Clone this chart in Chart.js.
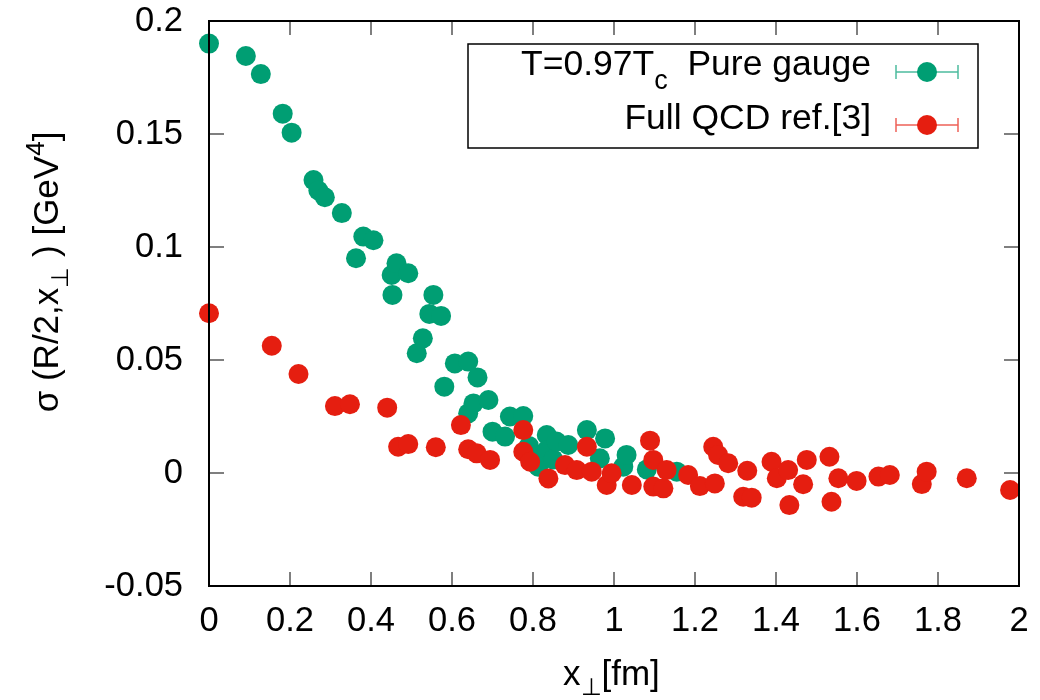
<!DOCTYPE html>
<html>
<head>
<meta charset="utf-8">
<script src="https://cdn.jsdelivr.net/npm/chart.js@4.4.0/dist/chart.umd.min.js"></script>
<style>
  html, body { margin: 0; padding: 0; background: #fff; }
</style>
</head>
<body>
<canvas id="chart" width="1040" height="700"></canvas>
<script>
// values
const pureX = [0, 0.091, 0.128, 0.182, 0.204, 0.258, 0.270, 0.286, 0.328, 0.363, 0.381, 0.406,
  0.451, 0.453, 0.463, 0.492, 0.513, 0.528, 0.544, 0.554, 0.573, 0.581, 0.607, 0.640, 0.640,
  0.653, 0.663, 0.690, 0.700, 0.731, 0.743, 0.776, 0.790, 0.809, 0.813, 0.834, 0.834, 0.850,
  0.858, 0.887, 0.933, 0.965, 0.978, 1.023, 1.031, 1.081, 1.155];
const pureY = [0.190, 0.1845, 0.1765, 0.159, 0.1506, 0.1296, 0.125, 0.122, 0.115, 0.095, 0.1046, 0.103,
  0.0876, 0.0788, 0.0928, 0.0884, 0.053, 0.0596, 0.0704, 0.0788, 0.0695, 0.0382, 0.0485, 0.0493, 0.0264,
  0.0308, 0.0423, 0.0323, 0.0183, 0.0161, 0.025, 0.0252, 0.012, 0.0058, 0.0028, 0.0168, 0.0102, 0.006,
  0.0139, 0.0124, 0.019, 0.0065, 0.0153, 0.0028, 0.008, 0.0016, 0.0006];

const fullX = [0, 0.155, 0.221, 0.311, 0.348, 0.440, 0.467, 0.492, 0.560, 0.622, 0.640, 0.661,
  0.694, 0.776, 0.776, 0.793, 0.838, 0.879, 0.908, 0.933, 0.945, 0.982, 0.994, 1.044, 1.089,
  1.097, 1.097, 1.122, 1.130, 1.183, 1.212, 1.245, 1.249, 1.257, 1.282, 1.319, 1.329, 1.340,
  1.389, 1.402, 1.430, 1.433, 1.467, 1.476, 1.532, 1.537, 1.554, 1.599, 1.653, 1.681, 1.760,
  1.772, 1.871, 1.978];
const fullY = [0.0707, 0.0563, 0.0438, 0.0296, 0.0304, 0.0289, 0.0116, 0.0128, 0.0114, 0.0212, 0.0105, 0.0087,
  0.0058, 0.019, 0.0094, 0.005, -0.0024, 0.0035, 0.0013, 0.0116, 0.0006, -0.0053, -0.0001, -0.0053, 0.0143,
  0.0058, -0.006, -0.0068, 0.0013, -0.0009, -0.0058, 0.0116, -0.0046, 0.008, 0.0043, -0.0105, 0.001, -0.0109,
  0.005, -0.0023, 0.0013, -0.0142, -0.005, 0.0058, 0.0072, -0.0127, -0.0023, -0.0035, -0.0016, -0.0009, -0.0049,
  0.0006, -0.0023, -0.0075];

const xTicks = [0, 0.2, 0.4, 0.6, 0.8, 1, 1.2, 1.4, 1.6, 1.8, 2];
const xTickLabels = ['0', '0.2', '0.4', '0.6', '0.8', '1', '1.2', '1.4', '1.6', '1.8', '2'];
const yTicks = [-0.05, 0, 0.05, 0.1, 0.15, 0.2];
const yTickLabels = ['-0.05', '0', '0.05', '0.1', '0.15', '0.2'];

const GREEN = '#009e73';
const RED = '#e51e10';
const FONT = '"Liberation Sans", Arial, sans-serif';

// draw text made of pieces (for sub/superscripts)
function richWidth(ctx, parts, size) {
  let w = 0;
  parts.forEach(p => {
    ctx.font = (p.size || size) + 'px ' + FONT;
    w += ctx.measureText(p.t).width;
  });
  return w;
}
function drawRich(ctx, parts, x, y, size, align) {
  const w = richWidth(ctx, parts, size);
  let cx = x;
  if (align === 'center') cx = x - w / 2;
  if (align === 'right') cx = x - w;
  ctx.textBaseline = 'alphabetic';
  ctx.textAlign = 'left';
  parts.forEach(p => {
    ctx.font = (p.size || size) + 'px ' + FONT;
    ctx.fillText(p.t, cx, y + (p.dy || 0));
    cx += ctx.measureText(p.t).width;
  });
}

const legendRows = [
  { parts: [{ t: 'T=0.97T' }, { t: 'c', size: 27, dy: 14 }, { t: '  Pure gauge' }], color: GREEN },
  { parts: [{ t: 'Full QCD ref.[3]' }], color: RED }
];

const framePlugin = {
  id: 'frame',
  afterDatasetsDraw(chart) {
    const { ctx, chartArea: a, scales } = chart;
    ctx.save();
    // inward ticks on all four sides
    ctx.strokeStyle = '#555';
    ctx.lineWidth = 1.5;
    ctx.beginPath();
    xTicks.forEach(v => {
      const px = scales.x.getPixelForValue(v);
      ctx.moveTo(px, a.bottom); ctx.lineTo(px, a.bottom - 14);
      ctx.moveTo(px, a.top); ctx.lineTo(px, a.top + 14);
    });
    yTicks.forEach(v => {
      const py = scales.y.getPixelForValue(v);
      ctx.moveTo(a.left, py); ctx.lineTo(a.left + 15, py);
      ctx.moveTo(a.right, py); ctx.lineTo(a.right - 15, py);
    });
    ctx.stroke();
    ctx.strokeStyle = '#000';
    ctx.lineWidth = 2;
    ctx.strokeRect(a.left, a.top, a.right - a.left, a.bottom - a.top);
    ctx.restore();
  },
  afterDraw(chart) {
    const ctx = chart.ctx;
    ctx.save();
    ctx.fillStyle = '#000';

    // x title
    drawRich(ctx, [{ t: 'x' }, { t: '⊥', size: 24, dy: 10 }, { t: '[fm]' }], 563, 685, 35, 'left');

    // y title, rotated
    ctx.save();
    ctx.translate(58, 272);
    ctx.rotate(-Math.PI / 2);
    drawRich(ctx, [{ t: 'σ (R/2,x' }, { t: '⊥', size: 24, dy: 10 }, { t: ' ) [GeV' },
      { t: '4', size: 26, dy: -14 }, { t: ']' }], 0, 0, 35, 'center');
    ctx.restore();

    // legend box
    ctx.strokeStyle = '#000';
    ctx.lineWidth = 1.5;
    ctx.strokeRect(468, 44, 510, 104);
    const rowY = [72, 125];
    const baseY = [75, 129];
    legendRows.forEach((r, i) => {
      ctx.fillStyle = '#000';
      drawRich(ctx, r.parts, 871, baseY[i], 35.5, 'right');
      const y = rowY[i];
      ctx.strokeStyle = r.color;
      ctx.globalAlpha = 0.7;
      ctx.lineWidth = 1.5;
      ctx.beginPath();
      ctx.moveTo(896, y); ctx.lineTo(958, y);
      ctx.moveTo(896, y - 7); ctx.lineTo(896, y + 7);
      ctx.moveTo(958, y - 7); ctx.lineTo(958, y + 7);
      ctx.stroke();
      ctx.globalAlpha = 1;
      ctx.fillStyle = r.color;
      ctx.beginPath();
      ctx.arc(927, y, 10, 0, Math.PI * 2);
      ctx.fill();
    });
    ctx.restore();
  }
};

const ctx = document.getElementById('chart').getContext('2d');
new Chart(ctx, {
  type: 'scatter',
  data: {
    datasets: [
      {
        label: 'Full QCD ref.[3]',
        data: fullX.map((x, i) => ({ x: x, y: fullY[i] })),
        backgroundColor: RED,
        borderWidth: 0,
        pointRadius: 10,
        pointHoverRadius: 10,
        clip: false,
        order: 0
      },
      {
        label: 'T=0.97Tc Pure gauge',
        data: pureX.map((x, i) => ({ x: x, y: pureY[i] })),
        backgroundColor: GREEN,
        borderWidth: 0,
        pointRadius: 10,
        pointHoverRadius: 10,
        clip: false,
        order: 1
      }
    ]
  },
  options: {
    responsive: false,
    devicePixelRatio: 1,
    animation: false,
    layout: { padding: { top: 21, right: 21, left: 0, bottom: 0 } },
    plugins: {
      legend: { display: false },
      tooltip: { enabled: false }
    },
    scales: {
      x: {
        type: 'linear',
        min: 0,
        max: 2,
        afterBuildTicks: s => { s.ticks = xTicks.map(v => ({ value: v })); },
        afterFit: s => { s.height = 114; s.paddingLeft = 0; s.paddingRight = 0; },
        grid: { display: false, drawTicks: false },
        border: { display: false },
        ticks: {
          padding: 15,
          color: '#000',
          maxRotation: 0,
          font: { size: 34.5, family: FONT },
          callback: (v) => xTickLabels[xTicks.indexOf(v)]
        }
      },
      y: {
        type: 'linear',
        min: -0.05,
        max: 0.2,
        afterBuildTicks: s => { s.ticks = yTicks.map(v => ({ value: v })); },
        afterFit: s => { s.width = 209; s.paddingTop = 0; s.paddingBottom = 0; },
        grid: { display: false, drawTicks: false },
        border: { display: false },
        ticks: {
          padding: 26,
          color: '#000',
          font: { size: 34.5, family: FONT },
          callback: (v) => yTickLabels[yTicks.indexOf(v)]
        }
      }
    }
  },
  plugins: [framePlugin]
});
</script>
</body>
</html>
